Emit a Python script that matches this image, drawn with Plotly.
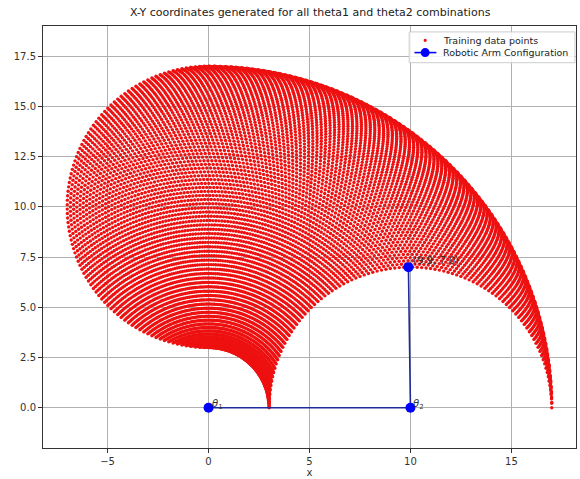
import numpy as np
import plotly.graph_objects as go

# Link lengths and joint-angle sweeps (degrees)
L1 = 10.0
L2 = 7.0
theta1_deg = np.linspace(0, 90, 100)
theta2_deg = np.linspace(0, 180, 100)

# Arm configuration shown
arm_x = [0.0, 10.0, 9.9]
arm_y = [0.0, 0.0, 7.0]
end_label = "(9.9, 7.0)"

legend_labels = ["Training data points", "Robotic Arm Configuration"]

t1, t2 = np.meshgrid(np.radians(theta1_deg), np.radians(theta2_deg))
px = (L1 * np.cos(t1) + L2 * np.cos(t1 + t2)).ravel()
py = (L1 * np.sin(t1) + L2 * np.sin(t1 + t2)).ravel()

RED = "#ee1111"
LINE_BLUE = "#1f2a9c"
MARK_BLUE = "#0000ff"
font = dict(family="DejaVu Sans", size=10, color="#333333")

fig = go.Figure()
fig.add_trace(go.Scatter(
    x=px, y=py, mode="markers", name=legend_labels[0],
    marker=dict(color=RED, size=3.4, line=dict(width=0)),
))
fig.add_trace(go.Scatter(
    x=arm_x, y=arm_y, mode="lines+markers", name=legend_labels[1],
    line=dict(color=LINE_BLUE, width=1.6),
    marker=dict(color=MARK_BLUE, size=10),
))

fig.add_annotation(x=arm_x[0], y=arm_y[0], text="<i>θ</i><sub>1</sub>", showarrow=False,
                   xanchor="left", yanchor="bottom", xshift=1, yshift=-5, font=font)
fig.add_annotation(x=arm_x[1], y=arm_y[1], text="<i>θ</i><sub>2</sub>", showarrow=False,
                   xanchor="left", yanchor="bottom", xshift=1, yshift=-5, font=font)
fig.add_annotation(x=arm_x[2], y=arm_y[2], text=end_label, showarrow=False,
                   xanchor="left", yanchor="bottom", xshift=3, yshift=-1, font=font)

# Compact legend box (matplotlib style) in paper coordinates
lx0, lx1, ly0, ly1 = 0.687, 0.998, 0.913, 0.986
sym_x = 0.717
row1, row2 = 0.966, 0.937
fig.add_shape(type="rect", xref="paper", yref="paper", x0=lx0, x1=lx1, y0=ly0, y1=ly1,
              line=dict(color="#cccccc", width=1), fillcolor="rgba(255,255,255,0.85)", layer="above")
fig.add_shape(type="circle", xref="paper", yref="paper", xsizemode="pixel", ysizemode="pixel",
              xanchor=sym_x, yanchor=row1, x0=-1.6, x1=1.6, y0=-1.6, y1=1.6,
              fillcolor=RED, line=dict(width=0), layer="above")
fig.add_shape(type="line", xref="paper", yref="paper", x0=0.697, x1=0.738, y0=row2, y1=row2,
              line=dict(color=MARK_BLUE, width=1.6), layer="above")
fig.add_shape(type="circle", xref="paper", yref="paper", xsizemode="pixel", ysizemode="pixel",
              xanchor=sym_x, yanchor=row2, x0=-4.5, x1=4.5, y0=-4.5, y1=4.5,
              fillcolor=MARK_BLUE, line=dict(width=0), layer="above")
for lab, ry in zip(legend_labels, [row1, row2]):
    fig.add_annotation(xref="paper", yref="paper", x=0.747, y=ry, text=lab, showarrow=False,
                       xanchor="left", yanchor="middle",
                       font=dict(family="DejaVu Sans", size=9.5, color="#222222"))

axis_common = dict(
    showgrid=True, gridcolor="#b0b0b0", gridwidth=1,
    showline=True, linecolor="#333333", linewidth=1, mirror=True,
    ticks="outside", ticklen=4, tickcolor="#333333",
    tickfont=font, zeroline=False,
)

fig.update_layout(
    width=580, height=479,
    margin=dict(l=43, r=3, t=26, b=29),
    paper_bgcolor="white", plot_bgcolor="white",
    title=dict(text="X-Y coordinates generated for all theta1 and theta2 combinations",
               x=0.5347, xanchor="center", y=0.975, yanchor="middle",
               font=dict(family="DejaVu Sans", size=11, color="#222222")),
    xaxis=dict(range=[-8.2, 18.2], tickvals=[-5, 0, 5, 10, 15],
               title=dict(text="x", font=font, standoff=2), **axis_common),
    yaxis=dict(range=[-2, 19], tickvals=[0, 2.5, 5, 7.5, 10, 12.5, 15, 17.5],
               tickformat=".1f", **axis_common),
    showlegend=False,
)

fig.write_html(
    "out.html",
    config={"displayModeBar": False},
    post_script="document.body.style.margin='0';document.body.style.overflow='hidden';",
)
